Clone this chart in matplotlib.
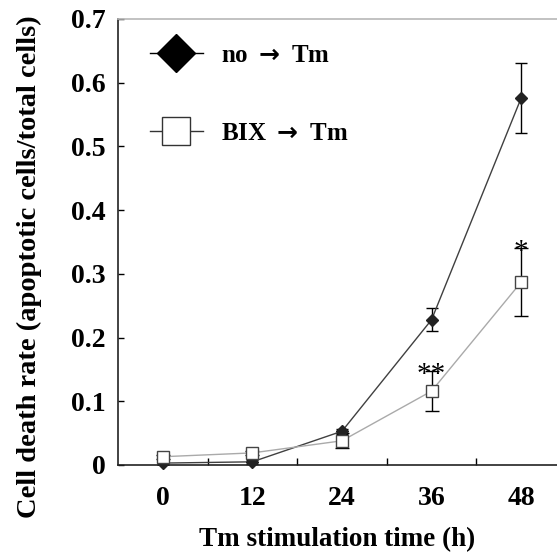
import matplotlib
matplotlib.use("Agg")
import matplotlib.pyplot as plt
from matplotlib.lines import Line2D

times = [0, 12, 24, 36, 48]
no_tm = [0.003, 0.005, 0.053, 0.228, 0.576]
no_tm_err = [0.003, 0.003, 0.004, 0.018, 0.055]
bix_tm = [0.013, 0.019, 0.038, 0.116, 0.287]
bix_tm_err = [0.003, 0.003, 0.012, 0.032, 0.053]
boundaries = [6, 18, 30, 42]
yticks = [0, 0.1, 0.2, 0.3, 0.4, 0.5, 0.6, 0.7]
ytick_labels = ["0", "0.1", "0.2", "0.3", "0.4", "0.5", "0.6", "0.7"]
sig = {36: "**", 48: "*"}
legend_labels = ["no $\\rightarrow$ Tm", "BIX $\\rightarrow$ Tm"]

serif = ["Liberation Serif", "DejaVu Serif"]
plt.rcParams["font.family"] = serif
plt.rcParams["font.weight"] = "bold"
plt.rcParams["mathtext.fontset"] = "dejavusans"
plt.rcParams["mathtext.default"] = "bf"

fig = plt.figure(figsize=(5.57, 5.54), dpi=100)
ax = fig.add_axes([118/557, 89/554, (557-118)/557, 446/554])

ax.plot(times, no_tm, color="#404040", lw=1.0, zorder=3)
ax.errorbar(times, no_tm, yerr=no_tm_err, fmt="none", ecolor="black",
            elinewidth=1.0, capsize=4, capthick=1.0, zorder=2)
ax.plot(times, no_tm, linestyle="none", marker="D", markersize=6.5,
        markerfacecolor="#222222", markeredgecolor="#222222", zorder=5, clip_on=False)

ax.plot(times, bix_tm, color="#aaaaaa", lw=1.0, zorder=3)
ax.errorbar(times, bix_tm, yerr=bix_tm_err, fmt="none", ecolor="black",
            elinewidth=1.0, capsize=5, capthick=1.0, zorder=2)
ax.plot(times, bix_tm, linestyle="none", marker="s", markersize=8.5,
        markerfacecolor="white", markeredgecolor="#444444", markeredgewidth=1.0,
        zorder=6, clip_on=False)

for t, s in sig.items():
    i = times.index(t)
    ax.annotate(s, (t, bix_tm[i] + bix_tm_err[i]), xytext=(0, -8),
                textcoords="offset points", ha="center", va="baseline",
                fontsize=21, fontweight="normal", family=serif)

ax.set_xlim(-6, 52.8)
ax.set_ylim(0, 0.7)
ax.set_xticks(times)
ax.set_xticklabels([str(t) for t in times])
ax.set_xticks(boundaries, minor=True)
ax.tick_params(axis="x", which="major", length=0, pad=15, labelsize=20)
ax.tick_params(axis="x", which="minor", length=5, direction="in", width=1.0)
ax.set_yticks(yticks)
ax.set_yticklabels(ytick_labels)
ax.tick_params(axis="y", which="major", length=4, direction="in", width=1.0,
               pad=9, labelsize=20)

ax.spines["right"].set_visible(False)
ax.spines["top"].set_color("#b8b8b8")
ax.spines["top"].set_linewidth(1.2)
ax.spines["left"].set_linewidth(1.2)
ax.spines["bottom"].set_linewidth(1.2)
ax.spines["left"].set_color("#222222")
ax.spines["bottom"].set_color("#222222")

ax.set_xlabel("Tm stimulation time (h)", fontsize=19.5, fontweight="bold", labelpad=12)
ax.set_ylabel("Cell death rate (apoptotic cells/total cells)", fontsize=20.5,
              fontweight="bold")
ax.yaxis.set_label_coords(-0.173, 0.444)

handles = [
    Line2D([], [], color="black", lw=1.0, marker="D", markersize=19,
           markerfacecolor="black", markeredgecolor="black"),
    Line2D([], [], color="#333333", lw=1.0, marker="s", markersize=20,
           markerfacecolor="white", markeredgecolor="#333333", markeredgewidth=1.0),
]
leg = ax.legend(handles, legend_labels, loc="upper left",
                bbox_to_anchor=(0.073, 0.944), frameon=False, borderpad=0,
                borderaxespad=0, handlelength=2.1, handletextpad=0.75,
                labelspacing=2.2,
                prop={"family": serif, "weight": "bold", "size": 18})

fig.savefig("out.png", dpi=100)
